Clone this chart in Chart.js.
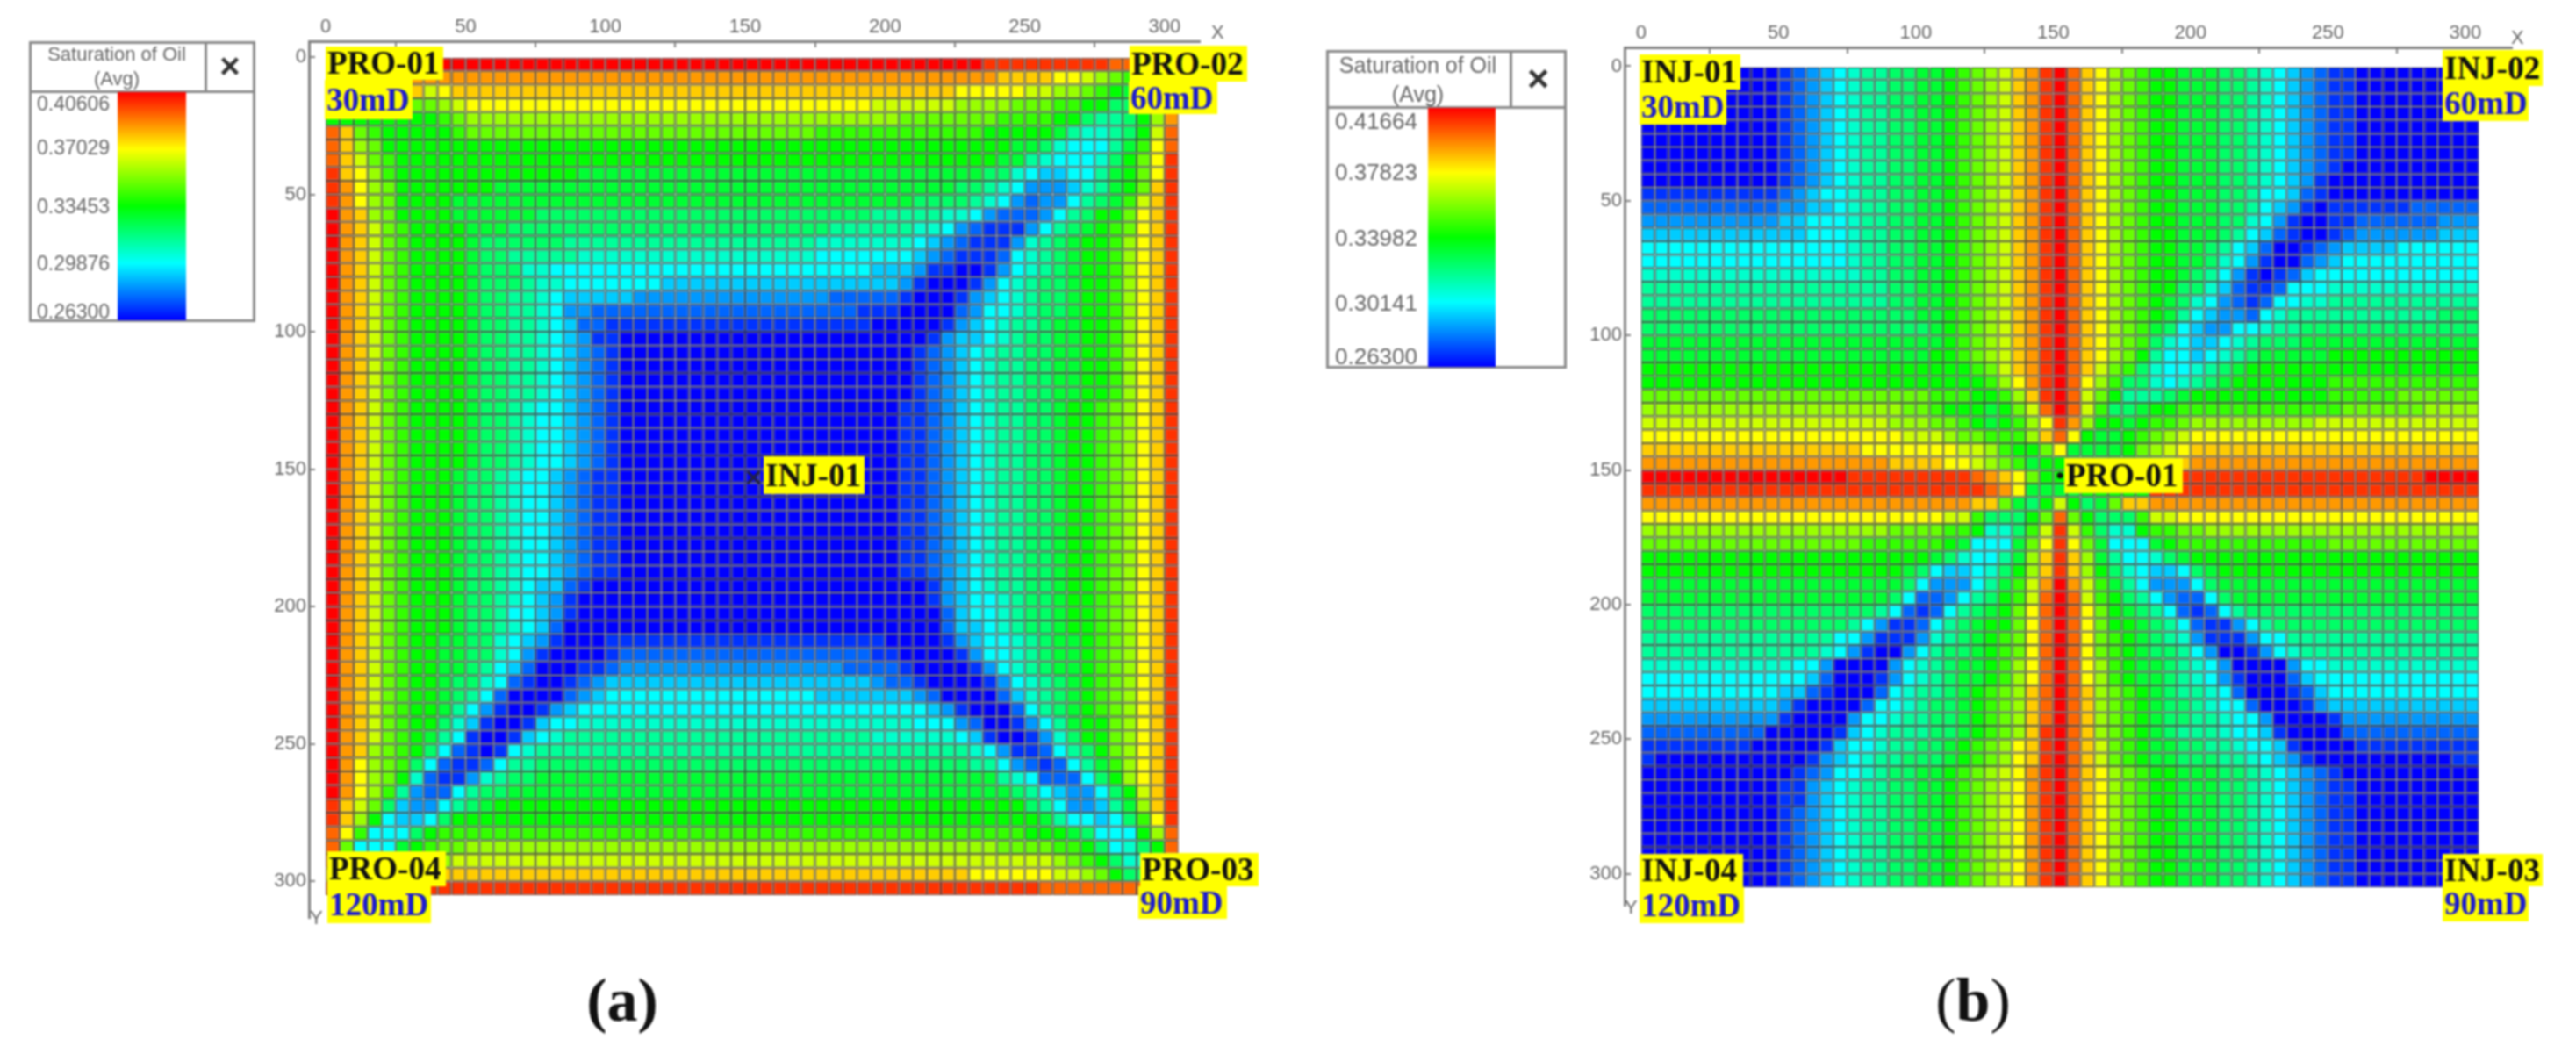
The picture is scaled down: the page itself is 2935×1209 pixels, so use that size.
<!DOCTYPE html>
<html><head><meta charset="utf-8">
<script src="https://cdn.jsdelivr.net/npm/chart.js@4"></script>
<style>
html,body{margin:0;padding:0;background:#fff;width:2935px;height:1209px;overflow:hidden}
#stage{position:absolute;left:0;top:0;width:2935px;height:1209px;filter:blur(1.1px)}
canvas{position:absolute}
.box{position:absolute;border:3px solid #8a8a8a;box-sizing:border-box;background:#fff}
.abs{position:absolute;white-space:nowrap}
.sans{font-family:"Liberation Sans",Arial,sans-serif;color:#666}
.tag{position:absolute;background:#ffff00;font-family:"Liberation Serif",serif;font-weight:bold;white-space:nowrap;padding-left:2px;box-sizing:border-box;color:#111}
.blue{color:#1c1cd0}
.cap{position:absolute;font-family:"Liberation Serif",serif;color:#111;white-space:nowrap;transform:translate(-50%,-50%)}
</style></head><body><div id="stage">
<canvas id="chartA"></canvas><canvas id="chartB"></canvas>
</div>
<script>
// ---- axis ticks ----
const xTicks = [0, 50, 100, 150, 200, 250, 300];
const yTicks = [0, 50, 100, 150, 200, 250, 300];
// ---- colour-bar ranges and their labels ----
const rangeA = [0.26300, 0.40606];
const rangeB = [0.26300, 0.41664];
const legendLabelsA = ["0.40606", "0.37029", "0.33453", "0.29876", "0.26300"];
const legendLabelsB = ["0.41664", "0.37823", "0.33982", "0.30141", "0.26300"];
const legendTitle = ["Saturation of Oil", "(Avg)"];
// ---- wells ----
const wellA = [{x: 153, y: 153}];
const wellB = [{x: 152.5, y: 152}];
// ---- cell readings, one character per 5-unit cell: 0 (blue) .. k (red), base 36 on a 0-20 colour scale ----
const cellsA = [
"kkkkkkkkkk kkkkkkkkkk kkkkkkkkkk kkkkkkkkkk kkkkkkkjjj jjjjjjiiii i",
"hhhhhhhhhh hhhhhhhhhh hhhhhhhhhh hhhhhhhhhh hhhhhhhhgg ggffedcbaa a",
"gggggggefg gggggggggg gggggggggg gggggggggg gggggfffff eeddcba99a a",
"ccccccccde ffffffffff ffffffffff fffffffffe eeeeeddddc ccbbaa889b g",
"aaaaaaaabc dddddddddd dddddddddd dddddddddd dcccccccbb bbaa8778ad h",
"igcbaaaaab cccccccccc cccccccccc cccccbbbbb bbbbbbbaaa aa976678ae i",
"igdcaaaaaa aaaaaaaaaa aaaaaaaaaa aaaaaaaaaa aaaaaaaaa9 98655579bf i",
"igecbaaaaa aaaaaaaaaa aaaaaaaaaa aaaaaaaaaa aaaaaaaa99 7655568acf j",
"jgfdbaaaaa aaaaaaaa99 9999999999 9999999999 9999999886 5445579acf j",
"jhfdcaaaaa aa99999999 9999999999 9999999999 9999988765 3334679acg j",
"jhfdcaaaa9 9999999999 9999999999 9999999999 9988887653 2335789beg j",
"khgdcaaaa9 9999988888 8888888888 8888888887 7777665322 23578aacfg j",
"khgecbaaaa 9998888888 8888888888 8888887777 7766532111 35789abcfg j",
"khgecbaaaa 9888888777 7777777777 7777766666 6654321113 6789aabdfg j",
"khgecbaaaa 9887777766 6666666666 6666655555 5543211125 6789aabdfg j",
"khgecbaaaa 9888665555 5555555555 5555555554 4431100135 6789aabdfg j",
"khgecbaaaa 9888766555 5555444444 4444444444 4310001356 7889aabdfg j",
"khgecbaaaa 9887765444 4433333333 3333332222 2100013456 7889aabdfg j",
"khgecbaaaa 9887765332 2222222222 2222222211 1000023556 7889aabdfg j",
"khgecbaaaa 9887765422 1111111111 1111111110 0000134567 7899aabdfg j",
"khgecbaaaa 9887765431 1000000000 0000000000 0001344567 8899aabdfg j",
"khgecbaaaa 9887765432 1000000000 0000000000 0012345677 8899aabdfg j",
"khgecbaaaa 9887765432 1000000000 0000000000 0012345677 8899aabdfg j",
"khgecbaaaa 9887765432 1000000000 0000000000 0012345677 8899aabdfg j",
"khgecbaaaa 9887765432 1000000000 0000000000 0012345677 8899aabdfg j",
"khgecbaaaa 9887655432 1000000000 0000000000 0112345677 889aabcdfg j",
"khgecbaaaa 9887655432 1000000000 0000000000 0112345677 889aabcdfg j",
"khgecbaaaa 9887655432 1000000000 0000000000 0112345677 889aabcdfg j",
"khgecbaaaa 9887655432 1000000000 0000000000 0112345677 889aabcdfg j",
"khgecbaaaa 9887655432 1000000000 0000000000 0112345677 889aabcdfg j",
"khgecbaaa9 8876554321 1000000000 0000000000 0112345677 889aabcdfg j",
"khgecbaaa9 8876554321 1000000000 0000000000 0112345677 889aabcdfg j",
"khgecbaaa9 8876554321 1000000000 0000000000 0112345677 889aabcdfg j",
"khgecbaaa9 8876554321 1000000000 0000000000 0112345677 889aabcdfg j",
"khgecbaaa9 8876554321 1000000000 0000000000 0112345677 889aabcdfg j",
"khgecbaaa9 8876554321 1000000000 0000000000 0112345677 889aabcdfg j",
"khgecbaaa9 8876554321 1000000000 0000000000 0112345677 889aabcdfg j",
"khgecbaaa9 8876554321 1000000000 0000000000 0112345677 889aabcdfg j",
"khgecbaaa9 8876544210 0000000000 0000000000 0001345677 889aabcdfg j",
"khgecbaaa9 8876543100 0000000000 0000000000 0001345567 889aabcdfg j",
"khgecbaaa9 8875543100 0000000000 0000000000 0000245567 889aabcdfg j",
"khgecbaaa9 8876542000 0000000000 0000000000 0000244567 889aabcdfg j",
"khgecbaa99 8865431000 1111111111 1111111111 0000134556 7899abcdfg j",
"khgecbaa99 8865310000 1222222222 2222222221 1000013556 7899abcdfg j",
"khgecbaa99 8754200011 2333333333 3333333222 2100001356 7899abcdfg j",
"khgecbaa98 8652100123 4444444444 4444444443 2210000135 6789abcdfg j",
"khgecbaa98 7520000234 5555555555 5555544444 4432000024 6789abcdfg j",
"khgecbaa97 5310013455 5555555555 5555555555 5554310002 5789abcdfg j",
"khgecbaa86 4100145566 6666666666 6666666666 6655532001 3579aacdfg j",
"khgecba975 1001456777 7777777777 7777777776 6666654100 1368aacdfg j",
"khgdcba852 1015677777 7777777777 7777777777 7777776531 12578acdfg j",
"khfdcb8521 1257788888 8888888888 8888888888 8888887753 212579bdfg j",
"khfdca6211 3678899999 9999999999 9999999999 9999999976 522258adfg j",
"khfdb73225 7889999999 9999999999 9999999999 9999999998 7543358aeg j",
"jgec843357 89aaaaaaaa aaaaaaaaaa aaaaaaaaaa aaaaaaaaaa 87533479dg j",
"jgda54458a aaaaaaaaaa aaaaaaaaaa aaaaaaaaaa aaaaaaaaaa a9755458bf j",
"ifb5558abb bbbbbbbbbb bbbbbbbbbb bbbbbbbbbb bbbbbbbbbb aaa98555ad i",
"ic5559abcc dddddddddd dddddddddd dddddddddd ddddddddcc ccbba8568a i",
"iaaabbcdde eeeeeeeeee eeeeeeeeee eeeeeeeeee eeeeeeeeee eedcba8668 a",
"gggggggggg gggggggggg gggggggggg gggggggggg ggggggffff ffeedca888 a",
"jjjjjjjjjj jjjjjjjjjj jjjjjjjjjj jjjjjjjjjj jjjjjjjjjj jiiiiiiiih h"
].map(s => s.replace(/ /g, ""));
const cellsB = [
"0000000000 1234567788 99abcdeghj kigfdcbaa9 9988765432 1100000000 0",
"0000000000 1234567788 99abcdeghj kigfdcbaa9 9988765432 1100000000 0",
"0000000000 1234567788 99abcdeghj kigfdcbaa9 9988765432 1100000000 0",
"0000000000 1234567788 99abcdeghj kigfdcbaa9 9988765432 1100000000 0",
"0000000000 1234567788 99abcdeghj kigfdcbaa9 9988765432 1100000000 0",
"0000000000 1234567788 99abcdeghj kigfdcbaa9 9988765432 1100000000 0",
"0000000000 1234567788 99abcdeghj kigfdcbaa9 9988765432 1100000000 0",
"0000000000 1234567788 99abcdeghj kigfdcbaa9 9988765432 1000000000 0",
"0000000000 1234567788 99abcdeghj kigfdcbaa9 9988765431 0000000000 0",
"1111111111 2345567788 99abcdeghj kigfdcbaa9 9988755421 0000000000 0",
"2222222222 3344567788 99abcdeghj kigfdcbaa9 9988754310 1111112222 2",
"3333333333 4455567788 99abcdeghj kigfdcbaa9 9988653100 1122222233 3",
"4444444444 4455567788 99abcdeghj kigfdcbaa9 9987542100 1233333344 4",
"5555555555 5555567788 99abcdeghj kigfdcbaa9 9875420012 3444455555 5",
"5555555555 5555567788 99abcdeghj kigfdcbaa9 9865310023 4555555555 5",
"6666666666 6666667788 99abcdeghj kigfdcbaa9 8753101245 5555555555 5",
"7777777777 7777777788 99abcdeghj kigfdcbaa8 8642112555 6666666666 6",
"7777777777 7777777788 99abcdeghj kigfdcba98 6532125566 7777777777 7",
"8888888888 8888888888 99abcdeghj kigfdcba97 5433256777 7777777788 8",
"8888888888 8888888888 89abcdeghj kigfdcb985 4335567788 8888888888 8",
"9999999999 9999999999 99abcdeghj kigfdcb865 4456788899 9999999999 9",
"9999999999 9999999999 9aabcdeghj kigfdca755 4567899999 aaaaaaaaaa a",
"aaaaaaaaaa aaaaaaaaaa aaaabceghj kigecb8655 6789aaaaaa aaaaaaaaaa a",
"aaaaaaaaaa aaaaaaaaaa aaaaabdfhj kifdb88656 789aaaaaaa bbbbbbbbbb b",
"cccccccccc cccccccccc cbbbaabdgj kieca77789 aaaaaaaaaa bbbbbccccc c",
"dddddddddd dddddddddc cbaaa9acei kieb889aab bbbbbbbbbb bccccccddd d",
"eeeeeeeeee eeeeeeeedd dccba9abdf jhdaa9abbc ddddddddde eeeeeeeeee e",
"ffffffffff fffffffffe eedccbbbdg ifa99abcde ffffffffff ffffffffff f",
"gggggggggg ggggggffff fffeedbaac f9999acdef gggggggggg gggggggggg g",
"hhhhhhhhhh hhhhhhhhgg ggffedcb9a a999aabcdg hhhhhhhhhh hhhhhhhhhh h",
"kkkkkkkkkk kkkkkjjjjj jjjjihgfca a99aaaaaij jjjjjjjjjj jjjjjjjkkk k",
"jjjjjjjjjj jjjjjjjjjj jjjjjihf99 99aaaaajjj jjjjjjjjjj jjjjjjjjjj j",
"hhhhhhhhhh hhhhhhhhhh hhhhggc98a ea89cgghhh hhhhhhhhhh hhhhhhhhhh h",
"ffffffffff ffffffffff ffeeb888ac ica888beef ffffffffff ffffffffff f",
"dddddddddd ddddddddcc ccbba668be jeb866abbc cddddddddd dddddddddd d",
"cccccccccc ccccccbbbb bba95559cf jfc95559ab bbbbbbbbbb cccccccccc c",
"aaaaaaaaaa aaaaaaaaaa a9865579dg jgd9755689 aaaaaaaaaa aaaaaaaaaa a",
"aaaaaaaaaa aaaaaaaaa9 8544568adg jgda865445 89aaaaaaaa aaaaaaaaaa a",
"9999999999 9999999998 5333579beh kheb975333 5899999999 9999999999 9",
"9999999999 9999999985 223578abei kieba87532 2589999999 9999999999 9",
"8888888888 8888888752 125789acfi kifca98752 1257888888 8888888888 8",
"8888888888 8888875311 25789aacfi kifcaa9875 2113578888 8888888888 8",
"7777777777 7777553111 36789abcfi kifcba9876 3111355777 7777777777 7",
"7777777777 7776531003 57889abcfi kifcba9887 5300135677 7777777777 7",
"6666666666 6553000035 67899abdfi kifdba9987 6530000355 6666666666 6",
"5555555555 5542000135 67899abdfi kifdba9987 6531000245 5555555555 5",
"5555555555 4421000256 7789abcdgi kigdcba987 7652000124 5555555555 5",
"4444444444 3100002556 7889abcdgi kigdcba988 7655200013 4444444444 4",
"3333333333 1000035567 7889abcdgi kigdcba988 7765530000 1333333333 3",
"2222222220 0000145677 7889abcdgj kigdcba987 7765541000 0222222222 2",
"1111111100 0001455677 889abcdfgj kigecba998 8776554100 0011111111 1",
"1000000000 0013456778 889abcdfgj kigecba998 8877654310 0000000001 1",
"0000000000 0123556788 99abcdefhj kigfdcbaa9 9988765432 1000000000 0",
"0000000000 1134567788 99abcdefhj kigfdcbaa9 9988765432 1100000000 0",
"0000000000 1134567788 99abcdefhj kigfdcbaa9 9988765432 1100000000 0",
"0000000000 1234567788 99abcdefhj kigfdcbaa9 9988765432 1100000000 0",
"0000000000 1234567788 99abcdefhj kigfdcbaa9 9988765432 1100000000 0",
"0000000000 1234567788 99abcdefhj kigfdcbaa9 9988765432 1100000000 0",
"0000000000 1234567788 99abcdefhj kigfdcbaa9 9988765432 1100000000 0",
"0000000000 1234567788 99abcdefhj kigfdcbaa9 9988765432 1100000000 0",
"0000000000 1234567788 99abcdefhj kigfdcbaa9 9988765432 1100000000 0"
].map(s => s.replace(/ /g, ""));
const cellUnits = 5;

const stops = [[0,0,255],[0,255,255],[0,255,0],[255,255,0],[255,0,0]];
function rainbow(t){
  t = Math.max(0, Math.min(1, t)) * 4;
  const i = Math.min(3, Math.floor(t)), f = t - i;
  return stops[i].map((c, k) => Math.round(c + (stops[i + 1][k] - c) * f));
}
function buildCells(rows, range){
  const out = [];
  rows.forEach((row, r) => {
    if (row.length !== 61) throw new Error("row " + r + " has " + row.length + " cells");
    [...row].forEach((ch, c) => {
      const level = parseInt(ch, 36);
      out.push({x: (c + 0.5) * cellUnits, y: [r * cellUnits, (r + 1) * cellUnits],
                v: range[0] + level / 20 * (range[1] - range[0])});
    });
  });
  if (rows.length !== 61) throw new Error("rows " + rows.length);
  return out;
}
function panel(id, css, rows, range, well, wellStyle, ax){
  const cv = document.getElementById(id);
  cv.style.left = css.left + "px"; cv.style.top = css.top + "px";
  cv.style.width = css.w + "px"; cv.style.height = css.h + "px";
  cv.width = css.w; cv.height = css.h;
  const tone = c => (c.raw.v - range[0]) / (range[1] - range[0]);
  const axisCommon = {
    type: "linear", offset: false,
    border: {color: "#808080", width: 3},
    grid: {display: true, drawOnChartArea: false, color: "#808080", tickLength: -7, lineWidth: 2},
    ticks: {color: "#666", font: {family: "Liberation Sans", size: 22}, padding: 10, maxRotation: 0, autoSkip: false}
  };
  return new Chart(cv, {
    type: "bar",
    data: {datasets: [
      {type: "scatter", data: well, order: 0, pointStyle: wellStyle.style, pointRadius: wellStyle.r,
       borderColor: wellStyle.color, backgroundColor: wellStyle.color, borderWidth: wellStyle.lw},
      {type: "bar", order: 1, data: buildCells(rows, range), grouped: false, barPercentage: 1, categoryPercentage: 1,
       borderSkipped: false, borderWidth: ax.line, inflateAmount: 0,
       backgroundColor: c => { const [r, g, b] = rainbow(tone(c)); return `rgb(${r},${g},${b})`; },
       borderColor: c => { const [r, g, b] = rainbow(tone(c)); const m = v => Math.round(v * 0.3 + 55 * 0.7); return `rgb(${m(r)},${m(g)},${m(b)})`; }}
    ]},
    options: {
      responsive: false, animation: false, devicePixelRatio: 1,
      layout: {padding: {left: 0, top: 0, right: ax.padR, bottom: ax.padB}},
      plugins: {legend: {display: false}, tooltip: {enabled: false}},
      scales: {
        x: {...axisCommon, position: "top", min: ax.x[0], max: ax.x[1],
            afterBuildTicks: s => { s.ticks = xTicks.map(v => ({value: v})); },
            afterFit: s => { s.height = ax.h; }},
        y: {...axisCommon, position: "left", reverse: true, min: ax.y[0], max: ax.y[1],
            afterBuildTicks: s => { s.ticks = yTicks.map(v => ({value: v})); },
            afterFit: s => { s.width = ax.w; }}
      }
    }
  });
}
panel("chartA", {left: 280, top: 0, w: 1110, h: 1070}, cellsA, rangeA, wellA,
  {style: "crossRot", r: 10, color: "#22223a", lw: 3},
  {x: [-6, 312.6], y: [-5.75, 313.3], w: 72, h: 47, padR: 23, padB: 24, line: 1.5});
panel("chartB", {left: 1760, top: 0, w: 1120, h: 1060}, cellsB, rangeB, wellB,
  {style: "circle", r: 2.5, color: "#111", lw: 2},
  {x: [-6, 317], y: [-7, 311.8], w: 91, h: 54, padR: 18, padB: 28, line: 1.5});

// ---- HTML overlays: colour bars, titles, well tags ----
const stage = document.getElementById("stage");
function el(cls, style, html){
  const d = document.createElement("div");
  d.className = cls; d.style.cssText = style; if (html !== undefined) d.innerHTML = html;
  stage.appendChild(d); return d;
}
function legend(g, labels){
  el("box", `left:${g.x0}px;top:${g.y0}px;width:${g.x1 - g.x0}px;height:${g.y1 - g.y0}px`);
  el("abs", `left:${g.x0}px;top:${g.yh}px;width:${g.x1 - g.x0}px;height:3px;background:#8a8a8a`);
  el("abs", `left:${g.xd}px;top:${g.y0}px;width:3px;height:${g.yh - g.y0}px;background:#8a8a8a`);
  el("abs", `left:${g.bx0}px;top:${g.by0}px;width:${g.bx1 - g.bx0}px;height:${g.by1 - g.by0}px;background:linear-gradient(to bottom,#f00,#ff0,#0f0,#0ff,#00f)`);
  el("abs sans", `left:${g.x0}px;width:${g.xd - g.x0}px;top:${g.t1 - g.fs}px;height:${2 * g.fs}px;line-height:${2 * g.fs}px;text-align:center;font-size:${g.fs}px`, legendTitle[0]);
  el("abs sans", `left:${g.x0}px;width:${g.xd - g.x0}px;top:${g.t2 - g.fs}px;height:${2 * g.fs}px;line-height:${2 * g.fs}px;text-align:center;font-size:${g.fs}px`, legendTitle[1]);
  el("abs sans", `left:${g.xd}px;width:${g.x1 - g.xd}px;top:${g.t0 - 30}px;height:60px;line-height:60px;text-align:center;font-size:${g.fs + 18}px;color:#333;font-weight:bold`, "×");
  labels.forEach((t, i) => el("abs sans", `left:${g.lx}px;top:${g.ly[i] - g.fs}px;height:${2 * g.fs}px;line-height:${2 * g.fs}px;font-size:${g.ls}px`, t));
}
legend({x0: 33, x1: 291, y0: 47, y1: 367, yh: 103, xd: 233, bx0: 134, bx1: 212, by0: 105, by1: 365,
        t0: 75, t1: 62, t2: 90, fs: 22, ls: 23, lx: 42, ly: [118, 168, 235, 300, 355]}, legendLabelsA);
legend({x0: 1511, x1: 1785, y0: 57, y1: 420, yh: 121, xd: 1720, bx0: 1627, bx1: 1704, by0: 123, by1: 418,
        t0: 89, t1: 74, t2: 107, fs: 25, ls: 26, lx: 1521, ly: [138, 196, 271, 345, 406]}, legendLabelsB);

const tags = [
 ["PRO-01",371,53,134,38,0],["30mD",370,91,100,45,1],["PRO-02",1287,52,134,41,0],["60mD",1286,93,101,37,1],
 ["PRO-04",373,970,135,40,0],["120mD",373,1010,118,42,1],["PRO-03",1299,972,135,38,0],["90mD",1297,1010,101,37,1],
 ["INJ-01",870,520,115,43,0],
 ["INJ-01",1868,62,115,40,0],["30mD",1868,102,99,40,1],["INJ-02",2783,57,114,41,0],["60mD",2783,98,98,40,1],
 ["INJ-04",1868,973,118,38,0],["120mD",1868,1011,119,41,1],["INJ-03",2783,973,114,37,0],["90mD",2783,1010,98,40,1],
 ["PRO-01",2352,522,135,40,0]
];
tags.forEach(([t, x, y, w, h, blue]) =>
  el("tag" + (blue ? " blue" : ""), `left:${x}px;top:${y}px;width:${w}px;height:${h}px;line-height:${h}px;font-size:37px`, t));

el("abs sans", "left:1380px;top:24px;font-size:22px", "X");
el("abs sans", "left:353px;top:1033px;font-size:22px", "Y");
el("abs sans", "left:2861px;top:30px;font-size:22px", "X");
el("abs sans", "left:1851px;top:1021px;font-size:22px", "Y");
el("cap", "left:709px;top:1140px;font-size:70px;font-weight:bold", "(a)");
el("cap", "left:2248px;top:1140px;font-size:70px", "(<b>b</b>)");
</script>
</body></html>
